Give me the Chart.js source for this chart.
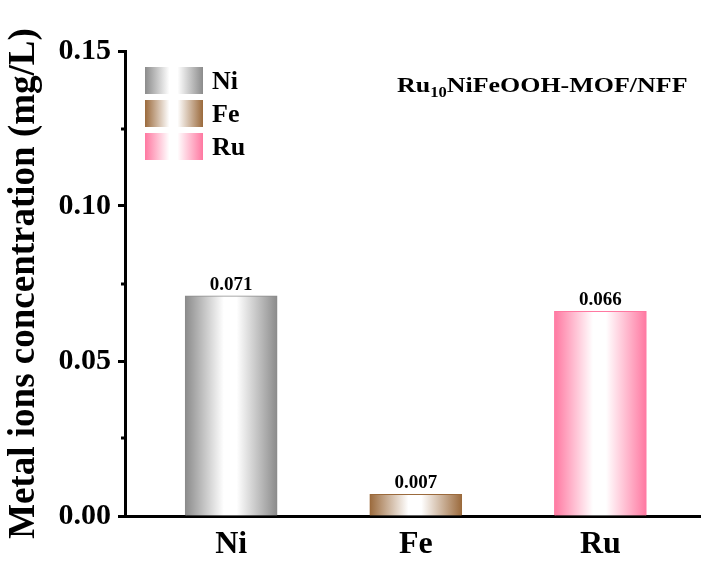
<!DOCTYPE html>
<html>
<head>
<meta charset="utf-8">
<script src="https://cdn.jsdelivr.net/npm/chart.js@4/dist/chart.umd.min.js"></script>
<style>
  html, body { margin: 0; padding: 0; background: #fff; }
  #wrap { width: 701px; height: 561px; position: relative; }
</style>
</head>
<body>
<div id="wrap"><canvas id="ch"></canvas></div>
<script>
const categories = ['Ni', 'Fe', 'Ru'];
const values = [0.071, 0.007, 0.066];
const valueLabels = ['0.071', '0.007', '0.066'];
const yMajorTicks = [0, 0.05, 0.10, 0.15];
const yMinorTicks = [0.025, 0.075, 0.125];
const edgeColors = ['#8b8b8b', '#9b6a3c', '#ff78a1'];
const sampleMain = 'Ru';
const sampleSub = '10';
const sampleRest = 'NiFeOOH-MOF/NFF';
const yTitle = 'Metal ions concentration (mg/L)';

const FONT = '"Liberation Serif", "Times New Roman", serif';
const BAR_W = 92;

function makeGrad(ctx, x0, x1, i) {
    const g = ctx.createLinearGradient(x0, 0, x1, 0);
    const c = edgeColors[i];
    g.addColorStop(0, c);
    g.addColorStop(0.42, '#ffffff');
    g.addColorStop(0.56, '#ffffff');
    g.addColorStop(1, c);
    return g;
}

const extras = {
    id: 'extras',
    beforeDatasetsDraw(chart) {
        // horizontal shine gradient per bar
        chart.getDatasetMeta(0).data.forEach((bar, i) => {
            const half = bar.width / 2;
            bar.options.backgroundColor = makeGrad(chart.ctx, bar.x - half, bar.x + half, i);
        });
    },
    afterDraw(chart) {
        const ctx = chart.ctx;
        const y = chart.scales.y;
        const meta = chart.getDatasetMeta(0);
        ctx.save();

        // minor ticks on y axis
        ctx.strokeStyle = '#000';
        ctx.lineWidth = 3;
        yMinorTicks.forEach(v => {
            const py = Math.round(y.getPixelForValue(v));
            ctx.beginPath();
            ctx.moveTo(y.right - 4, py);
            ctx.lineTo(y.right, py);
            ctx.stroke();
        });

        // value labels above bars
        ctx.fillStyle = '#000';
        ctx.font = 'bold 19px ' + FONT;
        ctx.textAlign = 'center';
        ctx.textBaseline = 'alphabetic';
        meta.data.forEach((bar, i) => {
            ctx.fillText(valueLabels[i], bar.x, bar.y - 6);
        });

        // legend
        categories.forEach((c, i) => {
            const top = 67 + 33 * i;
            ctx.fillStyle = makeGrad(ctx, 145, 203, i);
            ctx.fillRect(145, top, 58, 27);
            ctx.fillStyle = '#000';
            ctx.font = 'bold 26px ' + FONT;
            ctx.textAlign = 'left';
            ctx.textBaseline = 'alphabetic';
            ctx.fillText(c, 212, top + 22);
        });

        // sample name
        ctx.translate(397, 92);
        ctx.scale(1.18, 1);
        ctx.font = 'bold 22px ' + FONT;
        ctx.fillText(sampleMain, 0, 0);
        let w = ctx.measureText(sampleMain).width;
        ctx.font = 'bold 14px ' + FONT;
        ctx.fillText(sampleSub, w, 5);
        w += ctx.measureText(sampleSub).width;
        ctx.font = 'bold 22px ' + FONT;
        ctx.fillText(sampleRest, w, 0);
        ctx.restore();
    }
};

new Chart(document.getElementById('ch'), {
    type: 'bar',
    data: {
        datasets: [{
            data: values.map((v, i) => ({ x: i, y: v })),
            barThickness: BAR_W,
            backgroundColor: edgeColors,
            borderColor: edgeColors,
            borderWidth: 1,
            borderSkipped: 'bottom'
        }]
    },
    options: {
        responsive: true,
        maintainAspectRatio: false,
        animation: false,
        layout: { padding: { top: 51, right: 0, bottom: 0, left: 0 } },
        plugins: { legend: { display: false }, tooltip: { enabled: false } },
        scales: {
            x: {
                type: 'linear',
                offset: false,
                min: -0.575,
                max: 2.545,
                grid: { display: false },
                border: { display: true, color: '#000', width: 3 },
                afterBuildTicks: (s) => { s.ticks = categories.map((c, i) => ({ value: i })); },
                afterFit: (s) => { s.height = 45; },
                ticks: {
                    color: '#000',
                    padding: 2,
                    font: { family: FONT, size: 32, weight: 'bold' },
                    callback: (v) => categories[v]
                }
            },
            y: {
                min: 0,
                max: 0.15,
                afterBuildTicks: (s) => { s.ticks = yMajorTicks.map(v => ({ value: v })); },
                afterFit: (s) => { s.width = 125; },
                grid: { display: true, drawOnChartArea: false, tickLength: 7, tickWidth: 3, tickColor: '#000' },
                border: { display: true, color: '#000', width: 3 },
                ticks: {
                    color: '#000',
                    padding: 7,
                    font: { family: FONT, size: 30, weight: 'bold' },
                    callback: (v) => v.toFixed(2)
                },
                title: {
                    display: true,
                    text: yTitle,
                    color: '#000',
                    padding: { top: 2, bottom: 0 },
                    font: { family: FONT, size: 37, weight: 'bold' }
                }
            }
        }
    },
    plugins: [extras]
});
</script>
</body>
</html>
